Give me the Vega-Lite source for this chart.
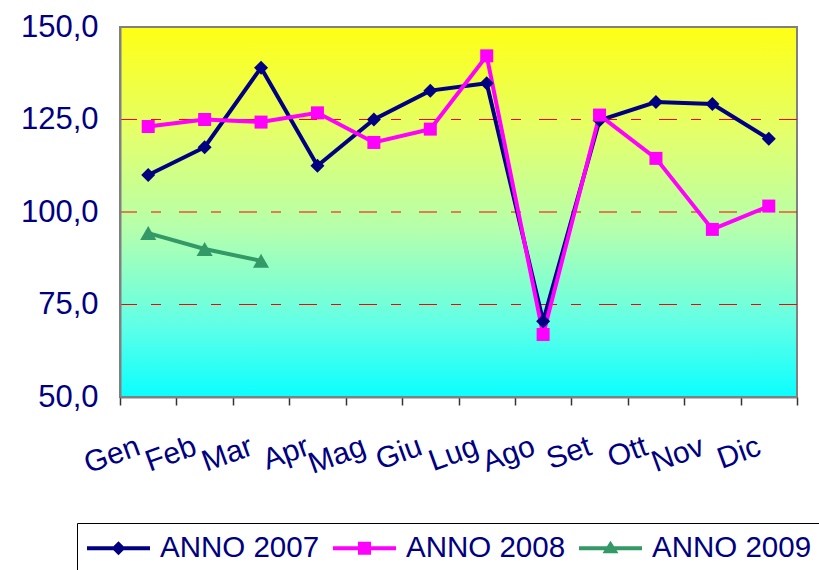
{
  "$schema": "https://vega.github.io/schema/vega-lite/v6.json",
  "width": 677,
  "height": 370,
  "autosize": "none",
  "padding": {"left": 120, "top": 27, "right": 22, "bottom": 173},
  "background": "#FFFFFF",
  "config": {
    "font": "Liberation Sans",
    "view": {
      "stroke": "#808080",
      "strokeWidth": 2,
      "fill": {
        "gradient": "linear",
        "x1": 0, "y1": 0, "x2": 0, "y2": 1,
        "stops": [
          {"offset": 0, "color": "#FFFF14"},
          {"offset": 0.3, "color": "#E2FF6E"},
          {"offset": 0.55, "color": "#B4FFAE"},
          {"offset": 0.8, "color": "#62FFE6"},
          {"offset": 1, "color": "#0AFFFF"}
        ]
      }
    },
    "legend": {
      "title": null,
      "orient": "none",
      "legendX": -43,
      "legendY": 496,
      "direction": "horizontal",
      "columns": 3,
      "symbolSize": 900,
      "symbolStrokeWidth": 0,
      "symbolOpacity": 1,
      "labelFontSize": 29.5,
      "labelColor": "#000080",
      "labelOffset": 43,
      "labelLimit": 0,
      "columnPadding": 13,
      "padding": 10,
      "strokeColor": "#000000",
      "fillColor": "#FFFFFF"
    }
  },
  "datasets": {
    "indici": [
      {"mese": "Gen", "serie": "ANNO 2007", "valore": 110.0},
      {"mese": "Feb", "serie": "ANNO 2007", "valore": 117.5},
      {"mese": "Mar", "serie": "ANNO 2007", "valore": 139.0},
      {"mese": "Apr", "serie": "ANNO 2007", "valore": 112.5},
      {"mese": "Mag", "serie": "ANNO 2007", "valore": 125.0},
      {"mese": "Giu", "serie": "ANNO 2007", "valore": 132.8},
      {"mese": "Lug", "serie": "ANNO 2007", "valore": 134.8},
      {"mese": "Ago", "serie": "ANNO 2007", "valore": 70.5},
      {"mese": "Set", "serie": "ANNO 2007", "valore": 124.8},
      {"mese": "Ott", "serie": "ANNO 2007", "valore": 129.7},
      {"mese": "Nov", "serie": "ANNO 2007", "valore": 129.2},
      {"mese": "Dic", "serie": "ANNO 2007", "valore": 119.8},
      {"mese": "Gen", "serie": "ANNO 2008", "valore": 123.1},
      {"mese": "Feb", "serie": "ANNO 2008", "valore": 125.0},
      {"mese": "Mar", "serie": "ANNO 2008", "valore": 124.3},
      {"mese": "Apr", "serie": "ANNO 2008", "valore": 126.8},
      {"mese": "Mag", "serie": "ANNO 2008", "valore": 118.8},
      {"mese": "Giu", "serie": "ANNO 2008", "valore": 122.4},
      {"mese": "Lug", "serie": "ANNO 2008", "valore": 142.2},
      {"mese": "Ago", "serie": "ANNO 2008", "valore": 66.9},
      {"mese": "Set", "serie": "ANNO 2008", "valore": 126.2},
      {"mese": "Ott", "serie": "ANNO 2008", "valore": 114.5},
      {"mese": "Nov", "serie": "ANNO 2008", "valore": 95.3},
      {"mese": "Dic", "serie": "ANNO 2008", "valore": 101.6},
      {"mese": "Gen", "serie": "ANNO 2009", "valore": 94.3},
      {"mese": "Feb", "serie": "ANNO 2009", "valore": 90.0},
      {"mese": "Mar", "serie": "ANNO 2009", "valore": 86.8}
    ],
    "griglia": [
      {"valore": 75},
      {"valore": 100},
      {"valore": 125}
    ]
  },
  "data": {"name": "indici"},
  "encoding": {
    "y": {
      "field": "valore",
      "type": "quantitative",
      "scale": {"domain": [50, 150], "nice": false, "zero": false},
      "axis": {
        "title": null,
        "values": [50, 75, 100, 125, 150],
        "grid": false,
        "ticks": false,
        "tickSize": 0,
        "domainColor": "#808080",
        "domainWidth": 2,
        "labelFontSize": 31,
        "labelColor": "#000080",
        "labelPadding": 22,
        "labelExpr": "replace(format(datum.value, '.1f'), '.', ',')",
        "zindex": 1
      }
    }
  },
  "layer": [
    {
      "data": {"name": "griglia"},
      "mark": {"type": "rule", "stroke": "#FF0000", "strokeWidth": 1, "strokeDash": [18, 18, 10, 14]},
      "encoding": {}
    },
    {
      "mark": {"type": "line", "strokeWidth": 4},
      "encoding": {
        "x": {
          "field": "mese", "type": "ordinal",
          "sort": ["Gen", "Feb", "Mar", "Apr", "Mag", "Giu", "Lug", "Ago", "Set", "Ott", "Nov", "Dic"],
          "scale": {"type": "band", "paddingInner": 0, "paddingOuter": 0},
          "axis": {
            "title": null, "tickBand": "extent", "tickSize": 8, "tickColor": "#333333", "tickWidth": 1.5,
            "domainColor": "#808080", "domainWidth": 2, "grid": false,
            "labelFontSize": 30, "labelColor": "#000080", "labelAngle": -20,
            "labelAlign": "right", "labelBaseline": "top", "labelPadding": 26, "labelOffset": -15, "zindex": 1
          }
        },
        "color": {
          "field": "serie", "type": "nominal",
          "scale": {"domain": ["ANNO 2007", "ANNO 2008", "ANNO 2009"], "range": ["#000080", "#FF00FF", "#339966"]}
        }
      }
    },
    {
      "transform": [{"filter": "datum.serie === 'ANNO 2007'"}],
      "mark": {"type": "point", "shape": "diamond", "size": 196, "filled": true, "opacity": 1},
      "encoding": {
        "x": {"field": "mese", "type": "ordinal", "sort": ["Gen", "Feb", "Mar", "Apr", "Mag", "Giu", "Lug", "Ago", "Set", "Ott", "Nov", "Dic"]},
        "color": {"field": "serie", "type": "nominal"}
      }
    },
    {
      "transform": [{"filter": "datum.serie === 'ANNO 2008'"}],
      "mark": {"type": "point", "shape": "square", "size": 169, "filled": true, "opacity": 1},
      "encoding": {
        "x": {"field": "mese", "type": "ordinal", "sort": ["Gen", "Feb", "Mar", "Apr", "Mag", "Giu", "Lug", "Ago", "Set", "Ott", "Nov", "Dic"]},
        "color": {"field": "serie", "type": "nominal"}
      }
    },
    {
      "transform": [{"filter": "datum.serie === 'ANNO 2009'"}],
      "mark": {"type": "point", "shape": "triangle-up", "size": 260, "filled": true, "opacity": 1},
      "encoding": {
        "x": {"field": "mese", "type": "ordinal", "sort": ["Gen", "Feb", "Mar", "Apr", "Mag", "Giu", "Lug", "Ago", "Set", "Ott", "Nov", "Dic"]},
        "color": {"field": "serie", "type": "nominal"}
      }
    },
    {
      "mark": {"type": "point", "filled": true, "opacity": 0},
      "encoding": {
        "x": {"field": "mese", "type": "ordinal", "sort": ["Gen", "Feb", "Mar", "Apr", "Mag", "Giu", "Lug", "Ago", "Set", "Ott", "Nov", "Dic"]},
        "color": {"field": "serie", "type": "nominal"},
        "shape": {
          "field": "serie", "type": "nominal",
          "scale": {
            "domain": ["ANNO 2007", "ANNO 2008", "ANNO 2009"],
            "range": [
              "M-1,-0.133H3.2V0.133H-1Z M0.633,0L1.1,-0.467L1.567,0L1.1,0.467Z",
              "M-1,-0.133H3.2V0.133H-1Z M0.667,-0.433H1.533V0.433H0.667Z",
              "M-1,-0.133H3.2V0.133H-1Z M1.1,-0.5L1.633,0.333H0.567Z"
            ]
          },
          "legend": {
            "encode": {"symbols": {"update": {"opacity": {"value": 1}}}}
          }
        }
      }
    }
  ]
}
